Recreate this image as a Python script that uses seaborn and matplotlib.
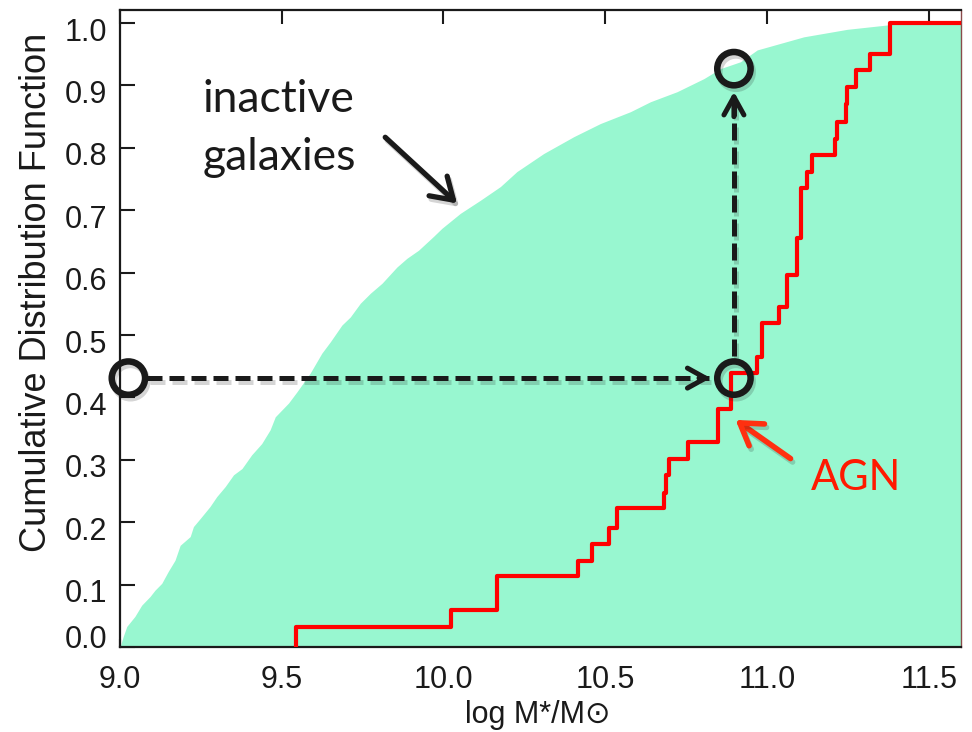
import matplotlib
matplotlib.use("Agg")
import matplotlib.pyplot as plt
import matplotlib.patheffects as pe
import matplotlib.transforms as mtransforms
import pandas as pd
import seaborn as sns

# ---------------- data ----------------
inactive_logm = [9.000, 9.010, 9.021, 9.046, 9.067, 9.093, 9.108, 9.129, 9.149, 9.170,
                 9.186, 9.217, 9.227, 9.248, 9.278, 9.299, 9.325, 9.351, 9.377, 9.407,
                 9.438, 9.464, 9.480, 9.521, 9.547, 9.588, 9.624, 9.650, 9.686, 9.712,
                 9.743, 9.774, 9.810, 9.856, 9.887, 9.923, 9.969, 9.995, 10.052, 10.114,
                 10.176, 10.227, 10.310, 10.403, 10.485, 10.578, 10.640, 10.722, 10.805,
                 10.856, 10.918, 10.970, 11.114, 11.248, 11.372, 11.400, 11.600]
inactive_cdf = [0.000, 0.017, 0.033, 0.049, 0.067, 0.081, 0.091, 0.102, 0.121, 0.139,
                0.163, 0.177, 0.193, 0.206, 0.225, 0.241, 0.257, 0.276, 0.286, 0.308,
                0.326, 0.348, 0.369, 0.391, 0.409, 0.439, 0.471, 0.489, 0.516, 0.529,
                0.551, 0.567, 0.583, 0.609, 0.623, 0.636, 0.658, 0.671, 0.695, 0.716,
                0.738, 0.762, 0.791, 0.818, 0.839, 0.858, 0.874, 0.890, 0.911,
                0.927, 0.938, 0.957, 0.978, 0.990, 0.997, 1.000, 1.000]

agn_logm = [9.543, 9.543, 10.023, 10.166, 10.415, 10.459, 10.511, 10.537, 10.681, 10.688,
            10.697, 10.755, 10.850, 10.890, 10.968, 10.985, 11.037, 11.063, 11.092, 11.104,
            11.125, 11.140, 11.210, 11.218, 11.246, 11.249, 11.274, 11.320, 11.380, 11.600]
agn_cdf = [0.000, 0.032, 0.060, 0.113, 0.138, 0.165, 0.191, 0.222, 0.247, 0.275,
           0.301, 0.329, 0.381, 0.439, 0.465, 0.519, 0.545, 0.596, 0.655, 0.735,
           0.762, 0.788, 0.815, 0.842, 0.870, 0.898, 0.925, 0.951, 1.000, 1.000]

xticks = [9.0, 9.5, 10.0, 10.5, 11.0, 11.5]
xtick_labels = ["9.0", "9.5", "10.0", "10.5", "11.0", "11.5"]
yticks = [0.0, 0.1, 0.2, 0.3, 0.4, 0.5, 0.6, 0.7, 0.8, 0.9, 1.0]
ytick_labels = ["0.0", "0.1", "0.2", "0.3", "0.4", "0.5", "0.6", "0.7", "0.8", "0.9", "1.0"]

# annotation circles (x, y)
circle_x = [9.026, 10.898, 10.898]
circle_y = [0.431, 0.431, 0.927]

# ---------------- style ----------------
sns.set_theme(style="ticks")
plt.rcParams["font.family"] = ["Liberation Sans", "DejaVu Sans"]
plt.rcParams["text.color"] = "k"
plt.rcParams["axes.labelcolor"] = "k"
plt.rcParams["xtick.color"] = "k"
plt.rcParams["ytick.color"] = "k"

GREEN = "#98f7d0"
RED = "#ff0000"

fig = plt.figure(figsize=(9.72, 7.32), dpi=100)
ax = fig.add_axes([120 / 972, 1 - 647 / 732, 841 / 972, 637 / 732])

# inactive galaxies CDF (filled)
ax.fill_between(inactive_logm, 0, inactive_cdf, color=GREEN, lw=0, zorder=1)

# AGN CDF (step line)
agn = pd.DataFrame({"logm": agn_logm, "cdf": agn_cdf})
sns.lineplot(data=agn, x="logm", y="cdf", estimator=None, sort=False,
             drawstyle="steps-post", color=RED, lw=3.0, ax=ax, zorder=3)

shadow = [pe.SimpleLineShadow(offset=(1.5, -2.5), shadow_color="k", alpha=0.18),
          pe.Normal()]

# dashed guide lines
ax.plot([9.085, 10.82], [0.431, 0.431], color="k", lw=3.6, ls=(0, (3.0, 1.4)),
        dash_capstyle="butt", zorder=5, path_effects=shadow)
ax.plot([10.898, 10.898], [0.466, 0.885], color="k", lw=3.6, ls=(0, (3.4, 1.4)),
        dash_capstyle="butt", zorder=5, path_effects=shadow)

head = "->,head_length=0.65,head_width=0.36"
ax.annotate("", xy=(10.826, 0.431), xytext=(10.79, 0.431),
            arrowprops=dict(arrowstyle=head, lw=3.6, color="k", mutation_scale=20,
                            shrinkA=0, shrinkB=0), zorder=6)
ax.annotate("", xy=(10.898, 0.890), xytext=(10.898, 0.85),
            arrowprops=dict(arrowstyle=head, lw=3.6, color="k", mutation_scale=20,
                            shrinkA=0, shrinkB=0), zorder=6)

# circles
ax.plot(circle_x, circle_y, ls="none", marker="o", ms=24, mfc="none", mec="k",
        mew=4.7, zorder=7, path_effects=shadow, clip_on=False)

# text annotations
ax.text(9.254, 0.858, "inactive", fontsize=32, family="Lato", va="baseline", ha="left",
        color="k", zorder=8)
ax.text(9.254, 0.764, "galaxies", fontsize=32, family="Lato", va="baseline", ha="left",
        color="k", zorder=8)
ax.annotate("", xy=(10.042, 0.711), xytext=(9.820, 0.817),
            arrowprops=dict(arrowstyle="->,head_length=0.75,head_width=0.48", lw=3.8,
                            color="k", mutation_scale=20, shrinkA=0, shrinkB=0,
                            path_effects=shadow), zorder=8)

ax.text(11.137, 0.2516, "AGN", fontsize=30, family="Lato", va="baseline", ha="left",
        color="#ff1a00", zorder=8)
ax.annotate("", xy=(10.903, 0.364), xytext=(11.073, 0.302),
            arrowprops=dict(arrowstyle="->,head_length=0.75,head_width=0.48", lw=4.0,
                            color="#ff3010", mutation_scale=20, shrinkA=0, shrinkB=0,
                            path_effects=shadow), zorder=8)

# ---------------- axes ----------------
ax.set_xlim(9.0, 11.6)
ax.set_ylim(0.0, 1.021)
ax.set_xticks(xticks, xtick_labels)
ax.set_yticks(yticks, ytick_labels)

ax.tick_params(axis="both", direction="in", labelsize=22, width=1.5, color="k",
               labelcolor="k")
ax.tick_params(axis="y", left=True, right=False, length=10.5, pad=9)
ax.tick_params(axis="x", bottom=True, top=True, length=10, pad=13)
for t in ax.xaxis.get_major_ticks():
    t.tick1line.set_markersize(5.8)

for side in ["left", "bottom", "top"]:
    ax.spines[side].set_linewidth(1.6)
    ax.spines[side].set_color("k")
ax.spines["right"].set_linewidth(1.0)
ax.spines["right"].set_color("#8a4a4a")

ax.set_xlabel("log M*/M⊙", fontsize=22, color="k")
ax.xaxis.set_label_coords(0.497, -0.083)
ax.set_ylabel("Cumulative Distribution Function", fontsize=26, color="k")
ax.yaxis.set_label_coords(-0.078, 0.557)

# tick-label vertical offsets (labels sit slightly below their ticks; 0.0 raised)
for i, t in enumerate(ax.yaxis.get_major_ticks()):
    dy = -6 if i > 0 else 10
    t.label1.set_transform(t.label1.get_transform() +
                           mtransforms.ScaledTranslation(0, dy / 100, fig.dpi_scale_trans))

fig.savefig("out.png", dpi=100)
